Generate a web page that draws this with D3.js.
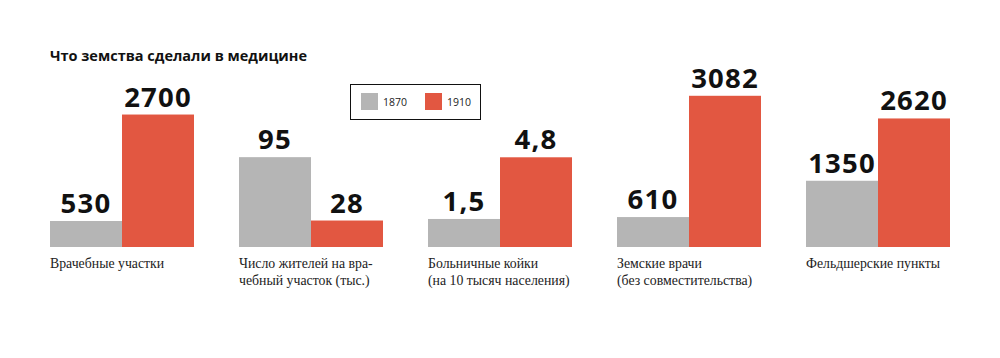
<!DOCTYPE html>
<html><head><meta charset="utf-8">
<script src="https://cdn.jsdelivr.net/npm/d3@7"></script>
<style>body{margin:0;background:#fff}</style>
</head><body>
<svg id="c" width="1000" height="358"></svg>
<script>
const title = "Что земства сделали в медицине";
const series = ["1870", "1910"];
const categories = [
  ["Врачебные участки"],
  ["Число жителей на вра-", "чебный участок (тыс.)"],
  ["Больничные койки", "(на 10 тысяч населения)"],
  ["Земские врачи", "(без совместительства)"],
  ["Фельдшерские пункты"]
];
const values1870 = [530, 95, 1.5, 610, 1350];
const values1910 = [2700, 28, 4.8, 3082, 2620];
const valueLabels1870 = ["530", "95", "1,5", "610", "1350"];
const valueLabels1910 = ["2700", "28", "4,8", "3082", "2620"];
const panelDomainMax = [3200, 166, 8.4, 3200, 3200];

const colors = {"1870": "#b5b5b5", "1910": "#e25741"};
const svg = d3.select("#c");
const baseY = 247, topY = 90;
const panelX = d3.scaleBand().domain(d3.range(categories.length)).range([50, 950]).paddingInner(45 / 189).paddingOuter(0);
svg.append("text").attr("x", 50).attr("y", 61).text(title)
  .attr("font-family", "Open Sans, sans-serif").attr("font-weight", 700).attr("font-size", 14.5).attr("fill", "#111");

categories.forEach((cat, i) => {
  const g = svg.append("g").attr("transform", `translate(${panelX(i)},0)`);
  const x = d3.scaleBand().domain(series).range([0, panelX.bandwidth()]).padding(0);
  const y = d3.scaleLinear().domain([0, panelDomainMax[i]]).range([baseY, topY]);
  const data = [
    {s: "1870", v: values1870[i], l: valueLabels1870[i]},
    {s: "1910", v: values1910[i], l: valueLabels1910[i]}
  ];
  g.selectAll("rect").data(data).join("rect")
    .attr("x", d => x(d.s)).attr("width", x.bandwidth())
    .attr("y", d => y(d.v)).attr("height", d => baseY - y(d.v))
    .attr("fill", d => colors[d.s]);
  g.selectAll("text.v").data(data).join("text").attr("class", "v")
    .attr("x", d => x(d.s) + x.bandwidth() / 2).attr("y", d => y(d.v) - 8)
    .attr("text-anchor", "middle")
    .attr("font-family", "Open Sans, sans-serif").attr("font-weight", 700)
    .attr("font-size", 27.5).attr("letter-spacing", 1.2).attr("fill", "#111")
    .text(d => d.l);
  g.selectAll("text.c").data(cat).join("text").attr("class", "c")
    .attr("x", 0).attr("y", (d, j) => 268 + j * 17)
    .attr("font-family", "Liberation Serif, serif").attr("font-size", 13.8).attr("fill", "#222")
    .text(d => d);
});

// legend
const lg = svg.append("g").attr("transform", "translate(350,84)");
lg.append("rect").attr("x", 0.5).attr("y", 0.5).attr("width", 130).attr("height", 35)
  .attr("fill", "#fff").attr("stroke", "#111").attr("stroke-width", 1);
series.forEach((s, i) => {
  lg.append("rect").attr("x", 11 + i * 64).attr("y", 9).attr("width", 17).attr("height", 17).attr("fill", colors[s]);
  lg.append("text").attr("x", 33 + i * 64).attr("y", 22).text(s)
    .attr("font-family", "Open Sans, sans-serif").attr("font-size", 10.5).attr("fill", "#222");
});
</script>
</body></html>
